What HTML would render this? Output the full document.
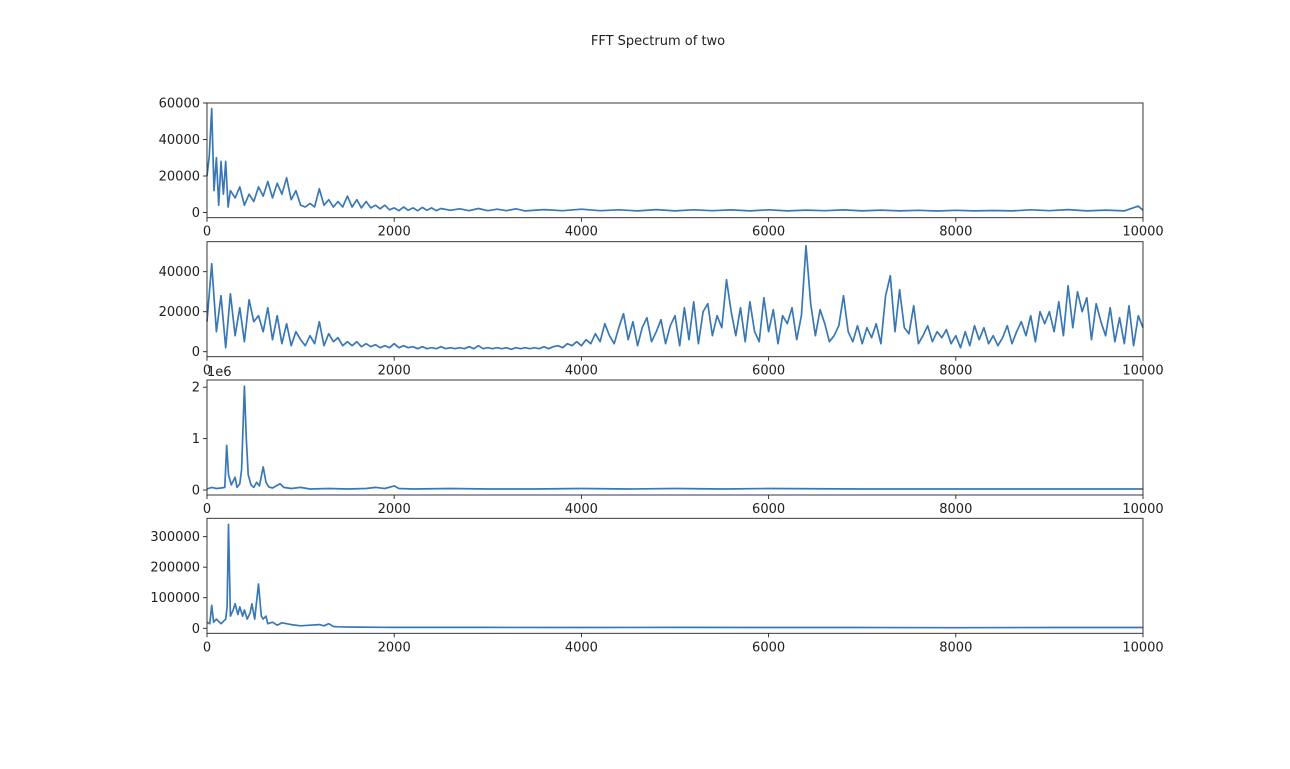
<!DOCTYPE html>
<html><head><meta charset="utf-8"><style>
html,body{margin:0;padding:0;background:#fff;}
svg text{font-family:"DejaVu Sans","Liberation Sans",sans-serif;fill:#222;}
</style></head><body>
<svg id="chart" width="1290" height="764" xmlns="http://www.w3.org/2000/svg">
<text x="658" y="45" font-size="13" text-anchor="middle">FFT Spectrum of two</text>
</svg>
<script>
// ---- data ----
const xTicks = [0, 2000, 4000, 6000, 8000, 10000];
const s1Freq = [0,25,50,75,100,125,150,175,200,225,250,300,350,400,450,500,550,600,650,700,750,800,850,900,950,1000,1050,1100,1150,1200,1250,1300,1350,1400,1450,1500,1550,1600,1650,1700,1750,1800,1850,1900,1950,2000,2050,2100,2150,2200,2250,2300,2350,2400,2450,2500,2600,2700,2800,2900,3000,3100,3200,3300,3400,3600,3800,4000,4200,4400,4600,4800,5000,5200,5400,5600,5800,6000,6200,6400,6600,6800,7000,7200,7400,7600,7800,8000,8200,8400,8600,8800,9000,9200,9400,9600,9800,9950,10000];
const s1Vals = [20000,31000,57000,12000,30000,4000,28000,10000,28000,3000,12000,8000,14000,4000,10000,6000,14000,9000,17000,8000,16000,10000,19000,7000,12000,4000,3000,5000,3000,13000,4000,7000,3000,6000,3000,9000,3000,7000,2500,6000,2500,4000,2000,4000,1500,2500,1000,3000,1200,2500,1000,2800,1200,2500,1000,2200,1200,2000,1000,2200,1000,1800,1000,2000,900,1600,1000,1800,1000,1500,900,1600,900,1500,1000,1400,900,1500,900,1300,1000,1400,900,1300,900,1200,800,1200,900,1100,900,1500,1000,1600,900,1300,900,3500,1200];
const s2Vals = [15000,44000,10000,28000,2000,29000,8000,22000,5000,26000,15000,18000,10000,22000,6000,18000,4000,14000,3000,10000,
6000,3000,8000,4000,15000,3000,9000,5000,7000,3000,5000,3000,5000,2500,4000,2500,3500,2000,3000,2000,
4000,2000,3000,2000,2500,1500,2500,1500,2000,1500,2500,1500,2000,1500,2000,1500,2500,1500,3000,1500,
2000,1500,2000,1500,2000,1200,2000,1500,2000,1500,2000,1500,2500,1500,2500,3000,2000,4000,3000,5000,
3000,6000,4000,9000,5000,14000,8000,4000,12000,19000,6000,15000,3000,12000,17000,5000,10000,16000,4000,13000,
18000,3000,22000,6000,25000,4000,20000,24000,8000,18000,12000,36000,20000,8000,22000,5000,25000,10000,5000,27000,
10000,21000,4000,18000,14000,22000,6000,18000,53000,24000,8000,21000,14000,5000,8000,13000,28000,10000,5000,13000,
4000,12000,7000,14000,4000,28000,38000,10000,31000,12000,9000,23000,4000,8000,13000,5000,10000,7000,11000,4000,
8000,2000,10000,3000,13000,6000,12000,4000,8000,3000,7000,13000,4000,10000,15000,8000,18000,5000,20000,14000,
20000,10000,25000,8000,33000,12000,30000,20000,27000,6000,24000,15000,8000,22000,5000,17000,4000,23000,3000,18000,
12000];
const s2Step = 50;
const s3Freq = [0,50,100,150,190,210,230,260,300,320,350,370,400,420,440,470,500,530,560,600,630,660,700,780,820,900,1000,1100,1300,1500,1700,1800,1900,2000,2050,2200,2600,3000,3500,4000,4500,5000,5500,6000,7000,8000,9000,10000];
const s3Vals = [0.02e6,0.05e6,0.03e6,0.04e6,0.05e6,0.87e6,0.3e6,0.1e6,0.25e6,0.05e6,0.12e6,0.4e6,2.02e6,1.0e6,0.3e6,0.1e6,0.05e6,0.15e6,0.08e6,0.45e6,0.15e6,0.06e6,0.04e6,0.12e6,0.05e6,0.03e6,0.05e6,0.02e6,0.03e6,0.02e6,0.03e6,0.05e6,0.03e6,0.08e6,0.03e6,0.02e6,0.03e6,0.02e6,0.02e6,0.03e6,0.02e6,0.03e6,0.02e6,0.03e6,0.02e6,0.02e6,0.02e6,0.02e6];
const s4Freq = [0,30,50,70,100,150,200,215,230,250,280,300,330,350,380,400,430,460,480,510,550,580,600,630,650,700,750,800,900,1000,1100,1200,1250,1300,1350,1400,1600,2000,3000,4000,5000,6000,7000,8000,9000,10000];
const s4Vals = [20000,15000,75000,20000,30000,15000,30000,70000,340000,40000,60000,80000,45000,70000,40000,60000,30000,50000,80000,30000,145000,40000,30000,40000,15000,20000,10000,18000,12000,8000,10000,12000,8000,15000,6000,5000,4000,3000,3000,2500,3000,2500,2500,2000,2500,2500];
const yTicks1 = [0,20000,40000,60000];
const yTicks2 = [0,20000,40000];
const yTicks3 = [0,1e6,2e6];
const yTicks3Labels = ["0","1","2"];
const yTicks4 = [0,100000,200000,300000];

// ---- drawing ----
const svg = document.getElementById('chart');
const NS = 'http://www.w3.org/2000/svg';
const X0 = 207, X1 = 1143;
function mk(tag, attrs){const e=document.createElementNS(NS,tag);for(const k in attrs)e.setAttribute(k,attrs[k]);svg.appendChild(e);return e;}
function xScale(v){return X0 + (v/10000)*(X1-X0);}

const panels = [
 {top:103, bot:217.7, ymin:-2850, ymax:60000, freq:s1Freq, vals:s1Vals, ticks:yTicks1, labels:null},
 {top:241.7, bot:356.7, ymin:-2500, ymax:55000, freq:null, vals:s2Vals, ticks:yTicks2, labels:null},
 {top:380, bot:495, ymin:-0.097e6, ymax:2.14e6, freq:s3Freq, vals:s3Vals, ticks:yTicks3, labels:yTicks3Labels},
 {top:518.3, bot:633.3, ymin:-16400, ymax:360000, freq:s4Freq, vals:s4Vals, ticks:yTicks4, labels:null}
];
panels.forEach((p,i)=>{
  const ys = v => p.bot - (v-p.ymin)/(p.ymax-p.ymin)*(p.bot-p.top);
  let d='';
  p.vals.forEach((v,j)=>{
    const f = p.freq ? p.freq[j] : j*s2Step;
    d += (j?'L':'M') + xScale(f).toFixed(1) + ' ' + ys(v).toFixed(1);
  });
  const line = mk('path',{d:d,fill:'none',stroke:'#3a78b5','stroke-width':1.7,'stroke-linejoin':'round'});
  
  
  const frame = mk('rect',{x:X0,y:p.top,width:X1-X0,height:p.bot-p.top,fill:'none',stroke:'#222','stroke-width':0.9});
  
  
  xTicks.forEach(t=>{
    const x = xScale(t);
    mk('line',{x1:x,x2:x,y1:p.bot,y2:p.bot+4,stroke:'#222','stroke-width':0.9});
    const tx = mk('text',{x:x,y:p.bot+18,'font-size':13,'text-anchor':'middle'});
    tx.textContent = t;
    
    
  });
  p.ticks.forEach((t,k)=>{
    const y = ys(t);
    mk('line',{x1:X0-4,x2:X0,y1:y,y2:y,stroke:'#222','stroke-width':0.9});
    const ty = mk('text',{x:X0-7,y:y+4.5,'font-size':13,'text-anchor':'end'});
    ty.textContent = p.labels ? p.labels[k] : t;
    
    
  });
  if(i===2){
    const off = mk('text',{x:X0,y:p.top-4,'font-size':13});
    off.textContent = '1e6';
    
    
  }
});
</script>
</body></html>
